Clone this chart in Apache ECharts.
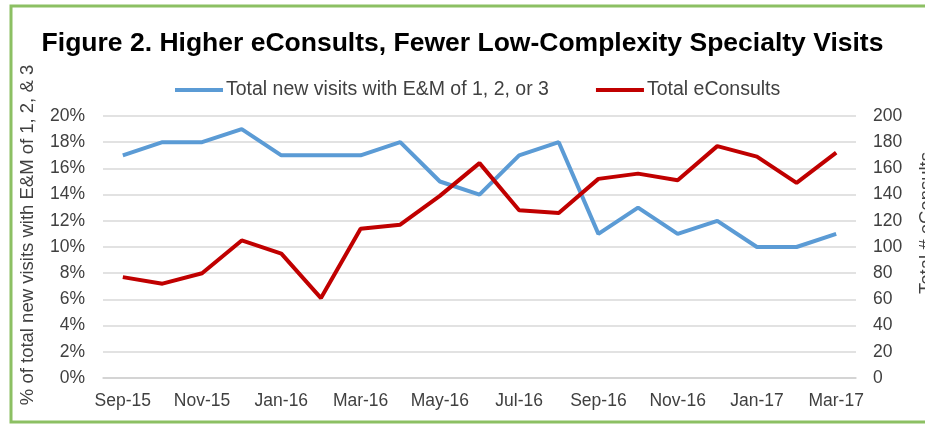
<!DOCTYPE html>
<html>
<head>
<meta charset="utf-8">
<script src="https://cdn.jsdelivr.net/npm/echarts@6/dist/echarts.min.js"></script>
<style>
html,body{margin:0;padding:0;background:#fff;}
#chart{width:925px;height:425px;}
</style>
</head>
<body>
<div id="chart"></div>
<script>
var months = ['Sep-15','Oct-15','Nov-15','Dec-15','Jan-16','Feb-16','Mar-16','Apr-16','May-16','Jun-16','Jul-16','Aug-16','Sep-16','Oct-16','Nov-16','Dec-16','Jan-17','Feb-17','Mar-17'];
var lowComplexityPct = [0.17,0.18,0.18,0.19,0.17,0.17,0.17,0.18,0.15,0.14,0.17,0.18,0.11,0.13,0.11,0.12,0.10,0.10,0.11];
var eConsults = [77,72,80,105,95,61,114,117,139,164,128,126,152,156,151,177,169,149,172];
var leftTicks = {min:0, max:0.2, interval:0.02};
var rightTicks = {min:0, max:200, interval:20};
var titleText = 'Figure 2. Higher eConsults, Fewer Low-Complexity Specialty Visits';
var seriesNames = ['Total new visits with E&M of 1, 2, or 3','Total eConsults'];
var leftAxisName = '% of total new visits with E&M of 1, 2, & 3';
var rightAxisName = 'Total # eConsults';

var font = '"Liberation Sans", Arial, sans-serif';
var labelColor = '#404040';
var chart = echarts.init(document.getElementById('chart'));
chart.setOption({
  backgroundColor:'#fff',
  animation:false,
  textStyle:{fontFamily:font},
  graphic:[{
    type:'rect', z:-1, silent:true,
    shape:{x:11, y:6, width:1000, height:416},
    style:{fill:'#fff', stroke:'#8cc063', lineWidth:3}
  }],
  title:{
    text:titleText, left:'center', top:25,
    textStyle:{fontFamily:font, fontSize:26.5, fontWeight:'bold', color:'#000'}
  },
  legend:{
    left:170, top:75, itemWidth:48, itemHeight:4, itemGap:47,
    icon:'rect',
    textStyle:{fontFamily:font, fontSize:19.5, color:labelColor, padding:[0,0,0,-2]},
    data:seriesNames
  },
  grid:{left:103, right:69, top:116, bottom:47, containLabel:false, outerBoundsMode:'none'},
  xAxis:{
    type:'category', data:months, boundaryGap:true,
    axisLine:{lineStyle:{color:'#d0d0d0', width:1.5}},
    axisTick:{interval:1, length:5, lineStyle:{color:'#d0d0d0'}},
    axisLabel:{interval:1, margin:14, fontSize:17.5, color:labelColor, fontFamily:font}
  },
  yAxis:[{
    type:'value', min:leftTicks.min, max:leftTicks.max, interval:leftTicks.interval,
    name:leftAxisName, nameLocation:'middle', nameGap:66, nameRotate:90,
    nameTextStyle:{fontSize:18.5, color:labelColor, fontFamily:font, padding:[0,0,0,24]},
    axisLine:{show:false}, axisTick:{show:false},
    axisLabel:{margin:18, fontSize:17.5, color:labelColor, fontFamily:font,
      formatter:function(v){return Math.round(v*100)+'%';}},
    splitLine:{lineStyle:{color:'#d9d9d9', width:1.5}}
  },{
    type:'value', min:rightTicks.min, max:rightTicks.max, interval:rightTicks.interval,
    name:rightAxisName, nameLocation:'middle', nameGap:61, nameRotate:90,
    nameTextStyle:{fontSize:18.5, color:labelColor, fontFamily:font, padding:[0,0,0,48]},
    axisLine:{show:false}, axisTick:{show:false},
    axisLabel:{margin:17, fontSize:17.5, color:labelColor, fontFamily:font},
    splitLine:{show:false}
  }],
  series:[{
    name:seriesNames[0], type:'line', yAxisIndex:0, data:lowComplexityPct,
    symbol:'none', color:'#5b9bd5', lineStyle:{width:4, color:'#5b9bd5'}
  },{
    name:seriesNames[1], type:'line', yAxisIndex:1, data:eConsults,
    symbol:'none', color:'#c00000', lineStyle:{width:4, color:'#c00000'}
  }]
});
</script>
</body>
</html>
